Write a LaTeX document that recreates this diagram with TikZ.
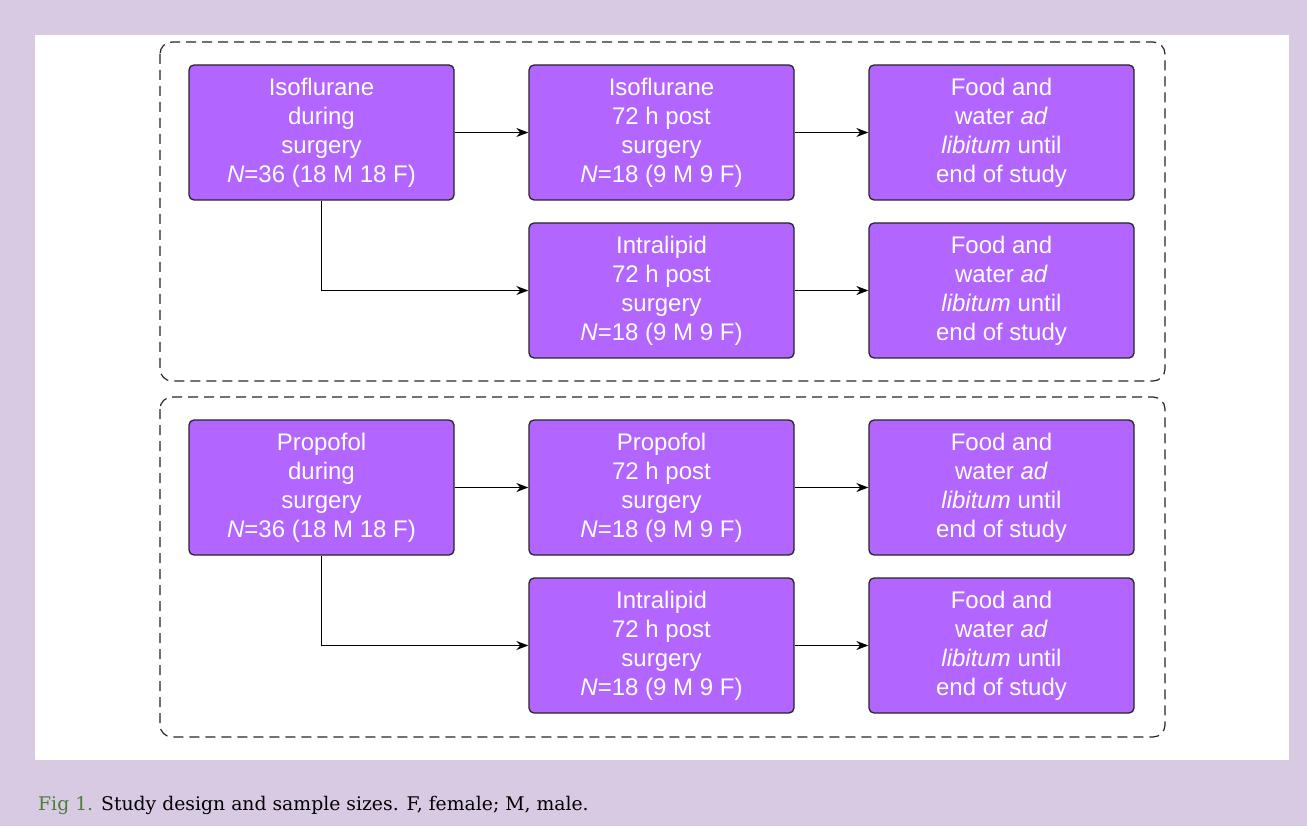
\documentclass[tikz,border=0pt]{standalone}
\usepackage{fontspec}
\setmainfont{Liberation Sans}
\newfontfamily\capfont{DejaVu Serif}
\usetikzlibrary{arrows.meta}

\definecolor{boxpurple}{HTML}{B266FF}
\definecolor{panellilac}{HTML}{D9CAE4}
\definecolor{figgreen}{HTML}{4E7D34}

\tikzstyle{stage}=[draw=black!85,fill=boxpurple,rounded corners=5pt,line width=1.3pt,minimum width=265pt,minimum height=135pt,inner sep=0pt,align=center,text=white,font=\fontsize{24}{29}\selectfont]
\tikzstyle{group}=[draw=black!85,line width=1.2pt,dash pattern=on 10pt off 6pt,rounded corners=12pt]
\tikzstyle{link}=[draw,line width=1.3pt,-{Stealth[length=12pt,width=9pt]}]

\begin{document}
\begin{tikzpicture}[x=1pt,y=-1pt]
                              % Frame and panel
                              \useasboundingbox (0,0) rectangle (1307,826);
                              \fill[panellilac] (0,0) rectangle (1307,826);
                              \fill[white] (35,35) rectangle (1289,760);
                              % The two dashed groups
                              \draw[group] (160,42) rectangle (1165,381);
                              \draw[group] (160,397) rectangle (1165,737);
                              % First we draw the boxes
                              \foreach \pos/\name/\la in {{(321.5,132.5)/isoDuring/{Isoflurane\\during\\surgery\\\textit{N}=36 (18 M 18 F)}},
                                    {(661.5,132.5)/isoPost/{Isoflurane\\72 h post\\surgery\\\textit{N}=18 (9 M 9 F)}},
                                    {(661.5,290.5)/isoLipid/{Intralipid\\72 h post\\surgery\\\textit{N}=18 (9 M 9 F)}},
                                    {(1001.5,132.5)/isoFoodA/{Food and\\water \textit{ad}\\\textit{libitum} until\\end of study}},
                                    {(1001.5,290.5)/isoFoodB/{Food and\\water \textit{ad}\\\textit{libitum} until\\end of study}},
                                    {(321.5,487.5)/propDuring/{Propofol\\during\\surgery\\\textit{N}=36 (18 M 18 F)}},
                                    {(661.5,487.5)/propPost/{Propofol\\72 h post\\surgery\\\textit{N}=18 (9 M 9 F)}},
                                    {(661.5,645.5)/propLipid/{Intralipid\\72 h post\\surgery\\\textit{N}=18 (9 M 9 F)}},
                                    {(1001.5,487.5)/propFoodA/{Food and\\water \textit{ad}\\\textit{libitum} until\\end of study}},
                                    {(1001.5,645.5)/propFoodB/{Food and\\water \textit{ad}\\\textit{libitum} until\\end of study}}}
                                    \node[stage] (\name) at \pos {\la};
                              % Connect boxes with arrows
                              \foreach \source/\dest in {isoDuring/isoPost, isoPost/isoFoodA, isoLipid/isoFoodB,
                                    propDuring/propPost, propPost/propFoodA, propLipid/propFoodB}
                                    \path[link] (\source) -- (\dest);
                              \foreach \source/\dest in {isoDuring/isoLipid, propDuring/propLipid}
                                    \path[link] (\source.south) |- (\dest.west);
                              % Caption
                              \node[anchor=base west,inner sep=0pt,font=\capfont\fontsize{18.8}{22}\selectfont] (caption) at (38,810)
                                    {\textcolor{figgreen}{Fig 1.} Study design and sample sizes. F, female; M, male.};
                        \end{tikzpicture}
\end{document}
